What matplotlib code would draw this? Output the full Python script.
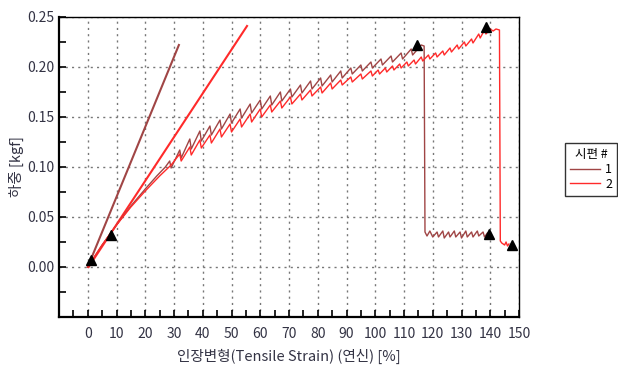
import matplotlib
matplotlib.use('Agg')
import matplotlib.pyplot as plt
from matplotlib.ticker import FixedLocator, NullFormatter

plt.rcParams['font.family'] = ['Noto Sans CJK KR', 'DejaVu Sans']

# specimen 1 (brown) - strain [%] / load [kgf]
x1 = [0, 5, 10, 15, 20, 24, 27,
      28.5, 29, 32, 32.5, 35.5, 36, 39, 39.5, 42.5, 43, 46, 46.5, 49.5, 50,
      53, 53.5, 56.5, 57, 60, 60.5, 63.5, 64, 67, 67.5, 70.5, 71, 74, 74.5,
      77.5, 78, 81, 81.5, 84.5, 85, 88, 88.5, 91.5, 92, 95, 95.5, 98.5, 99,
      102, 102.5, 105.5, 106, 109, 109.5, 112.5, 113, 116, 117, 117.3,
      118, 119, 120, 121.5, 122, 123.5, 124, 125.5, 126, 127.5, 128, 129.5,
      130, 131.5, 132, 133.5, 134, 135.5, 136, 137.5, 138, 139]
y1 = [0.000, 0.022, 0.042, 0.061, 0.078, 0.091, 0.100,
      0.106, 0.099, 0.117, 0.109, 0.128, 0.118, 0.136, 0.126, 0.141, 0.132,
      0.147, 0.138, 0.153, 0.144, 0.158, 0.149, 0.163, 0.154, 0.167, 0.158,
      0.171, 0.162, 0.175, 0.166, 0.178, 0.170, 0.182, 0.174, 0.186, 0.178,
      0.189, 0.181, 0.192, 0.185, 0.196, 0.189, 0.199, 0.193, 0.202, 0.196,
      0.205, 0.199, 0.208, 0.202, 0.211, 0.205, 0.214, 0.208, 0.218, 0.212,
      0.222, 0.221, 0.035,
      0.031, 0.036, 0.030, 0.035, 0.030, 0.036, 0.029, 0.035, 0.030, 0.036,
      0.030, 0.035, 0.029, 0.036, 0.030, 0.035, 0.030, 0.036, 0.031, 0.035,
      0.030, 0.034]

# specimen 2 (red)
x2 = [0, 5, 10, 15, 20, 25, 29,
      32, 32.5, 35.5, 36, 39, 39.5, 42.5, 43, 46, 46.5, 49.5, 50, 53, 53.5,
      56.5, 57, 60, 60.5, 63.5, 64, 67, 67.5, 70.5, 71, 74, 74.5, 77.5, 78,
      81, 81.5, 84.5, 85, 88, 88.5, 91.5, 92, 95, 95.5, 98.5, 99,
      101, 101.5, 103.5, 104, 106, 106.5, 108.5, 109, 111, 111.5, 113.5, 114,
      116, 116.5, 118.5, 119, 121, 121.5, 123.5, 124, 126, 126.5, 128.5, 129,
      131, 131.5, 133.5, 134, 136, 136.5, 138, 138.5, 140, 141, 142, 143.2,
      143.5, 144, 145, 145.5, 146, 146.5]
y2 = [0.000, 0.022, 0.042, 0.060, 0.076, 0.091, 0.102,
      0.113, 0.106, 0.120, 0.112, 0.127, 0.119, 0.132, 0.124, 0.138, 0.130,
      0.143, 0.135, 0.148, 0.140, 0.153, 0.145, 0.158, 0.150, 0.162, 0.155,
      0.166, 0.159, 0.170, 0.163, 0.173, 0.167, 0.177, 0.171, 0.180, 0.174,
      0.184, 0.178, 0.187, 0.182, 0.190, 0.185, 0.193, 0.188, 0.196, 0.191,
      0.197, 0.193, 0.199, 0.195, 0.201, 0.197, 0.203, 0.199, 0.205, 0.201,
      0.207, 0.203, 0.210, 0.206, 0.212, 0.208, 0.214, 0.210, 0.216, 0.212,
      0.219, 0.215, 0.222, 0.218, 0.225, 0.221, 0.228, 0.224, 0.233, 0.229,
      0.237, 0.233, 0.238, 0.236, 0.238, 0.237,
      0.026, 0.024, 0.022, 0.025, 0.021, 0.023]

# modulus lines
mod1_x = [0, 31.7]
mod1_y = [0, 0.222]
mod2_x = [0.3, 55.4]
mod2_y = [0, 0.241]

# markers
mark_x = [1.3, 8.0, 114.5, 138.6, 139.7, 147.6]
mark_y = [0.0067, 0.032, 0.222, 0.240, 0.033, 0.0217]

c1 = '#a04545'
c2 = '#ff2a2a'

fig = plt.figure(figsize=(6.18, 3.67), dpi=100)
ax = fig.add_axes([59 / 618, 1 - 317 / 367, 460 / 618, 300 / 367])

ax.plot(mod1_x, mod1_y, color=c1, lw=1.5)
ax.plot(mod2_x, mod2_y, color=c2, lw=1.5)
l1, = ax.plot(x1, y1, color=c1, lw=1.0, label='1')
l2, = ax.plot(x2, y2, color=c2, lw=1.0, label='2')
ax.plot(mark_x, mark_y, '^', color='black', ms=7, zorder=5)

ax.set_xlim(-10, 150)
ax.set_ylim(-0.05, 0.25)

ax.xaxis.set_major_locator(FixedLocator(list(range(0, 151, 10))))
ax.xaxis.set_minor_locator(FixedLocator(list(range(-10, 151, 5))))
ax.xaxis.set_minor_formatter(NullFormatter())
yt = [0.0, 0.05, 0.10, 0.15, 0.20, 0.25]
ax.yaxis.set_major_locator(FixedLocator(yt))
ax.set_yticklabels(['%.2f' % v for v in yt])
ax.yaxis.set_minor_locator(FixedLocator([-0.05 + 0.025 * i for i in range(13)]))
ax.yaxis.set_minor_formatter(NullFormatter())

ax.tick_params(which='both', direction='in', length=5, width=1.2, colors='black',
               labelcolor='#333344', labelsize=10)
ax.tick_params(axis='x', pad=7)
ax.grid(True, which='major', linestyle=(0, (1.5, 3)), color='#777777', lw=1)

for s in ['left', 'bottom']:
    ax.spines[s].set_linewidth(1.6)
for s in ['top', 'right']:
    ax.spines[s].set_linewidth(1.0)

ax.set_xlabel('인장변형(Tensile Strain) (연신) [%]', fontsize=10.5, color='#333344', labelpad=6)
ax.set_ylabel('하중 [kgf]', fontsize=10.5, color='#333344', labelpad=2)

leg = fig.legend([l1, l2], ['1', '2'], title='시편 #', loc='upper left',
                 bbox_to_anchor=(565 / 618, 1 - 143 / 367), borderaxespad=0,
                 fancybox=False, edgecolor='black', fontsize=9, title_fontsize=9,
                 handlelength=2.4, handletextpad=0.4, borderpad=0.4,
                 labelspacing=0.15)
leg.get_frame().set_linewidth(1.0)

fig.savefig('out.png', dpi=100)
